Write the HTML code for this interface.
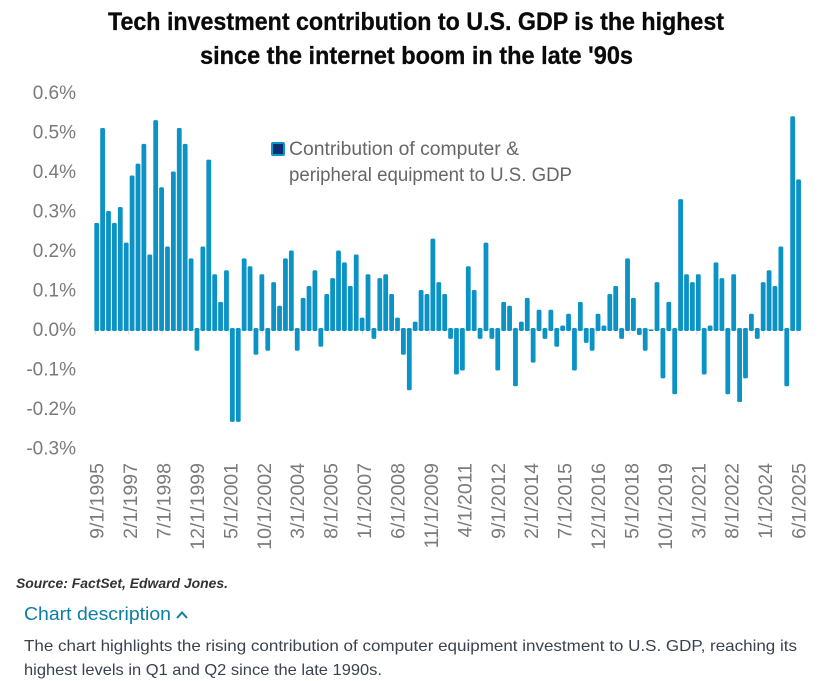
<!DOCTYPE html>
<html lang="en">
<head>
<meta charset="utf-8">
<title>Tech investment contribution to U.S. GDP</title>
<style>
html,body{margin:0;padding:0;background:#fff;}
body{width:826px;height:681px;overflow:hidden;}
svg{display:block;}
text{font-family:"Liberation Sans",Arial,sans-serif;}
</style>
</head>
<body>
<svg id="chart" width="826" height="681" viewBox="0 0 826 681" xmlns="http://www.w3.org/2000/svg">
  <text x="108" y="30" font-size="25" font-weight="700" fill="#0a0a0a" stroke="#0a0a0a" stroke-width="0.3" textLength="616" lengthAdjust="spacingAndGlyphs">Tech investment contribution to U.S. GDP is the highest</text>
  <text x="200" y="64" font-size="25" font-weight="700" fill="#0a0a0a" stroke="#0a0a0a" stroke-width="0.3" textLength="433" lengthAdjust="spacingAndGlyphs">since the internet boom in the late '90s</text>
  <g id="y-axis"></g>
  <g id="x-axis"></g>
  <g id="bars"></g>
  <g>
    <rect x="272" y="143" width="12" height="12" rx="1" fill="#0b2f73" stroke="#0f96c8" stroke-width="2"/>
    <text x="289" y="155" font-size="19" fill="#666" textLength="230" lengthAdjust="spacingAndGlyphs">Contribution of computer &amp;</text>
    <text x="289" y="181" font-size="19" fill="#666" textLength="283" lengthAdjust="spacingAndGlyphs">peripheral equipment to U.S. GDP</text>
  </g>
  <text x="16" y="588" font-size="14" font-weight="700" font-style="italic" fill="#333" textLength="212" lengthAdjust="spacingAndGlyphs">Source: FactSet, Edward Jones.</text>
  <text x="24" y="620" font-size="18" fill="#0a7ea4" textLength="147" lengthAdjust="spacingAndGlyphs">Chart description</text>
  <path d="M177 618 L182 612.5 L187 618" fill="none" stroke="#0a7ea4" stroke-width="2"/>
  <text x="24" y="651" font-size="16" fill="#3a4250" textLength="773" lengthAdjust="spacingAndGlyphs">The chart highlights the rising contribution of computer equipment investment to U.S. GDP, reaching its</text>
  <text x="24" y="675" font-size="16" fill="#3a4250" textLength="358" lengthAdjust="spacingAndGlyphs">highest levels in Q1 and Q2 since the late 1990s.</text>
</svg>
<script>
const categories = [
"9/1/1995","12/1/1995","3/1/1996","6/1/1996","9/1/1996","12/1/1996","3/1/1997","6/1/1997","9/1/1997","12/1/1997",
"3/1/1998","6/1/1998","9/1/1998","12/1/1998","3/1/1999","6/1/1999","9/1/1999","12/1/1999","3/1/2000","6/1/2000",
"9/1/2000","12/1/2000","3/1/2001","6/1/2001","9/1/2001","12/1/2001","3/1/2002","6/1/2002","9/1/2002","12/1/2002",
"3/1/2003","6/1/2003","9/1/2003","12/1/2003","3/1/2004","6/1/2004","9/1/2004","12/1/2004","3/1/2005","6/1/2005",
"9/1/2005","12/1/2005","3/1/2006","6/1/2006","9/1/2006","12/1/2006","3/1/2007","6/1/2007","9/1/2007","12/1/2007",
"3/1/2008","6/1/2008","9/1/2008","12/1/2008","3/1/2009","6/1/2009","9/1/2009","12/1/2009","3/1/2010","6/1/2010",
"9/1/2010","12/1/2010","3/1/2011","6/1/2011","9/1/2011","12/1/2011","3/1/2012","6/1/2012","9/1/2012","12/1/2012",
"3/1/2013","6/1/2013","9/1/2013","12/1/2013","3/1/2014","6/1/2014","9/1/2014","12/1/2014","3/1/2015","6/1/2015",
"9/1/2015","12/1/2015","3/1/2016","6/1/2016","9/1/2016","12/1/2016","3/1/2017","6/1/2017","9/1/2017","12/1/2017",
"3/1/2018","6/1/2018","9/1/2018","12/1/2018","3/1/2019","6/1/2019","9/1/2019","12/1/2019","3/1/2020","6/1/2020",
"9/1/2020","12/1/2020","3/1/2021","6/1/2021","9/1/2021","12/1/2021","3/1/2022","6/1/2022","9/1/2022","12/1/2022",
"3/1/2023","6/1/2023","9/1/2023","12/1/2023","3/1/2024","6/1/2024","9/1/2024","12/1/2024","3/1/2025","6/1/2025"
];
const contribution = [
0.27,0.51,0.30,0.27,0.31,0.22,0.39,0.42,0.47,0.19,
0.53,0.36,0.21,0.40,0.51,0.47,0.18,-0.05,0.21,0.43,
0.14,0.07,0.15,-0.23,-0.23,0.18,0.16,-0.06,0.14,-0.05,
0.12,0.06,0.18,0.20,-0.05,0.08,0.11,0.15,-0.04,0.09,
0.13,0.20,0.17,0.11,0.19,0.03,0.14,-0.02,0.13,0.14,
0.09,0.03,-0.06,-0.15,0.02,0.10,0.09,0.23,0.12,0.09,
-0.02,-0.11,-0.10,0.16,0.10,-0.02,0.22,-0.02,-0.10,0.07,
0.06,-0.14,0.02,0.08,-0.08,0.05,-0.02,0.05,-0.04,0.01,
0.04,-0.10,0.07,-0.03,-0.05,0.04,0.01,0.09,0.11,-0.02,
0.18,0.08,-0.01,-0.05,0,0.12,-0.12,0.07,-0.16,0.33,
0.14,0.12,0.14,-0.11,0.01,0.17,0.13,-0.16,0.14,-0.18,
-0.12,0.04,-0.02,0.12,0.15,0.11,0.21,-0.14,0.54,0.38
];
const yTickValues = [0.6,0.5,0.4,0.3,0.2,0.1,0,-0.1,-0.2,-0.3];
const xTickLabels = ["9/1/1995","2/1/1997","7/1/1998","12/1/1999","5/1/2001","10/1/2002","3/1/2004","8/1/2005","1/1/2007","6/1/2008","11/1/2009","4/1/2011","9/1/2012","2/1/2014","7/1/2015","12/1/2016","5/1/2018","10/1/2019","3/1/2021","8/1/2022","1/1/2024","6/1/2025"];

const SVG_NS = 'http://www.w3.org/2000/svg';
function monthIndex(label) {
  const p = label.split('/');
  return (+p[2]) * 12 + (+p[0]) - 1;
}
const firstMonth = monthIndex(categories[0]);
function xScale(label) {
  return 96.7 + (monthIndex(label) - firstMonth) * 1.966;
}
function yScale(v) {
  return 329.5 - v * 395;
}
function svgEl(tag) {
  return document.createElementNS(SVG_NS, tag);
}

const yAxis = document.getElementById('y-axis');
yTickValues.forEach(function (v) {
  const t = svgEl('text');
  
  
  t.setAttribute('x', 76);
  t.setAttribute('y', yScale(v) + 6.5);
  t.setAttribute('text-anchor', 'end');
  t.setAttribute('font-size', '19');
  t.setAttribute('fill', '#7a7a7a');
  t.textContent = v.toFixed(1) + '%';
  yAxis.appendChild(t);
});

const xAxis = document.getElementById('x-axis');
const axisLine = svgEl('line');


axisLine.setAttribute('x1', xScale(categories[0]) - 2);
axisLine.setAttribute('x2', xScale(categories[categories.length - 1]) + 2);
axisLine.setAttribute('y1', yScale(0));
axisLine.setAttribute('y2', yScale(0));
axisLine.setAttribute('stroke', '#d9d9d9');
axisLine.setAttribute('stroke-width', '1');
xAxis.appendChild(axisLine);

xTickLabels.forEach(function (label) {
  const x = xScale(label);
  const tick = svgEl('line');
  
  
  tick.setAttribute('x1', x - 1.5);
  tick.setAttribute('x2', x - 1.5);
  tick.setAttribute('y1', yScale(0));
  tick.setAttribute('y2', yScale(0) + 5);
  tick.setAttribute('stroke', '#dcdcdc');
  tick.setAttribute('stroke-width', '1');
  xAxis.appendChild(tick);
  const t = svgEl('text');
  
  
  t.setAttribute('transform', 'translate(' + (x + 7) + ',463) rotate(-90)');
  t.setAttribute('text-anchor', 'end');
  t.setAttribute('font-size', '19.5');
  t.setAttribute('fill', '#7a7a7a');
  t.textContent = label;
  xAxis.appendChild(t);
});

const barsGroup = document.getElementById('bars');
categories.forEach(function (cat, i) {
  const v = contribution[i];
  const x = xScale(cat);
  const y0 = yScale(0);
  const yv = yScale(v);
  const top = v < 0 ? y0 - 1.5 : yv;
  const bottom = v < 0 ? yv + 1.5 : y0 + 1.5;
  const r = svgEl('rect');
  
  
  r.setAttribute('x', x - 2.4);
  r.setAttribute('y', top);
  r.setAttribute('width', 4.8);
  r.setAttribute('height', bottom - top);
  r.setAttribute('rx', 1.5);
  r.setAttribute('fill', '#0b93c6');
  barsGroup.appendChild(r);
});
</script>
</body>
</html>
